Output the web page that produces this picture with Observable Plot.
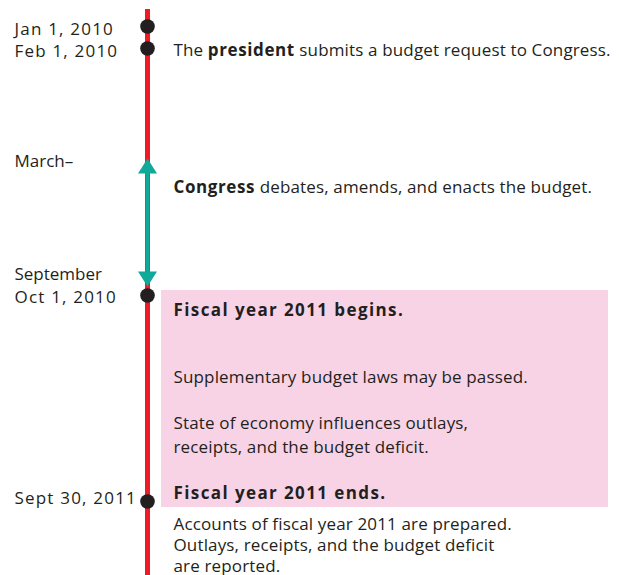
<!DOCTYPE html>
<html><head><meta charset="utf-8">
<script src="https://cdn.jsdelivr.net/npm/d3@7"></script>
<script src="https://cdn.jsdelivr.net/npm/@observablehq/plot@0.6"></script>
<style>body{margin:0;background:#fff} svg{display:block} .date text{letter-spacing:1.2px} .evt text{letter-spacing:0.15px}</style>
</head><body><div id="chart"></div>
<script>
const parse = d3.utcParse("%Y-%m-%d");

// Milestones on the timeline (dots)
const milestoneDates  = ["2010-01-01", "2010-02-01", "2010-10-01", "2011-09-30"];
const milestoneLabels = ["Jan 1, 2010", "Feb 1, 2010", "Oct 1, 2010", "Sept 30, 2011"];

// Congressional period (double-headed arrow)
const periodDates  = ["2010-03-01", "2010-09-01"];
const periodLabels = ["March–", "September"];

// Fiscal year (shaded box)
const fiscalDates = ["2010-10-01", "2011-09-30"];

// Extent of the timeline
const timelineDates = ["2009-12-15", "2011-12-31"];

// Event descriptions (** marks bold)
const eventDates = ["2010-02-01", "2010-03-01", "2010-10-01", "2010-10-01", "2010-10-01", "2011-09-30", "2011-09-30"];
const eventTexts = [
  "The **president** submits a budget request to Congress.",
  "**Congress** debates, amends, and enacts the budget.",
  "**Fiscal year 2011 begins.**",
  "Supplementary budget laws may be passed.",
  "State of economy influences outlays,\nreceipts, and the budget deficit.",
  "**Fiscal year 2011 ends.**",
  "Accounts of fiscal year 2011 are prepared.\nOutlays, receipts, and the budget deficit\nare reported."
];

// ---- layout / style (not data) ----
const RED = "#ed1c24", TEAL = "#11a99a", PINK = "#f8d3e5", INK = "#231f20";
const FONT = "Open Sans", FS = 17;
const scaleDates = [timelineDates[0], milestoneDates[0], milestoneDates[1], periodDates[0], periodDates[1], fiscalDates[0], fiscalDates[1], timelineDates[1]].map(parse);
const scalePx = [9, 26, 48, 158, 286, 295, 501, 575];
const milestoneDy = [3, 3, 2, -3];
const periodDy = [3, -12];
const eventDy = [2.5, 29.5, 15, 82.5, 138, -7.5, 42.5];
const eventLH = [1, 1, 1, 1, 1.38, 1, 1.24];

const strip = s => s.replace(/\*\*/g, "");
const milestones = milestoneDates.map((d, i) => ({date: parse(d), label: milestoneLabels[i]}));
const period = periodDates.map((d, i) => ({date: parse(d), label: periodLabels[i]}));
const events = eventDates.map((d, i) => ({date: parse(d), text: eventTexts[i]}));

const triUp = {draw(ctx) { ctx.moveTo(0, 0); ctx.lineTo(9.5, 15); ctx.lineTo(-9.5, 15); ctx.closePath(); }};
const triDown = {draw(ctx) { ctx.moveTo(0, 0); ctx.lineTo(9.5, -15); ctx.lineTo(-9.5, -15); ctx.closePath(); }};

const at0 = () => 0, at1 = () => 1;
const textBase = {x: at0, y: "date", textAnchor: "start", fontSize: FS, fontFamily: FONT, fill: INK, lineAnchor: "middle"};

const marks = [
  Plot.rect([{a: parse(fiscalDates[0]), b: parse(fiscalDates[1])}],
    {x1: at0, x2: at1, y1: "a", y2: "b", fill: PINK, insetLeft: 14, insetTop: -5, insetBottom: -6}),
  Plot.ruleX([{a: parse(timelineDates[0]), b: parse(timelineDates[1])}],
    {x: at0, y1: "a", y2: "b", stroke: RED, strokeWidth: 5}),
  Plot.ruleX([{a: period[0].date, b: period[1].date}],
    {x: at0, y1: "a", y2: "b", stroke: TEAL, strokeWidth: 4, insetTop: 8, insetBottom: 8}),
  Plot.dot([period[0]], {x: at0, y: "date", symbol: triUp, fill: TEAL, r: 8}),
  Plot.dot([period[1]], {x: at0, y: "date", symbol: triDown, fill: TEAL, r: 8}),
  Plot.dot(milestones, {x: at0, y: "date", r: 7.3, fill: INK}),
  ...milestones.map((m, i) => Plot.text([m], {...textBase, text: "label", dx: -133, dy: milestoneDy[i], className: "date"})),
  ...period.map((m, i) => Plot.text([m], {...textBase, text: "label", dx: -133, dy: periodDy[i]})),
  ...events.map((e, i) => Plot.text([e], {...textBase, text: d => strip(d.text), dx: 26, dy: eventDy[i], lineHeight: eventLH[i], className: "evt"}))
];

const svg = Plot.plot({
  width: 619, height: 575,
  marginTop: 0, marginRight: 0, marginBottom: 0, marginLeft: 0,
  x: {domain: [0, 1], range: [147, 608], axis: null},
  y: {type: "utc", domain: scaleDates, range: scalePx, axis: null},
  style: {background: "#fff", fontFamily: FONT, fontSize: FS + "px", color: INK},
  marks
});

// Rich text: bold segments
const rich = new Map(eventTexts.filter(t => t.includes("**") && !t.includes("\n")).map(t => [strip(t), t]));
svg.querySelectorAll("text").forEach(t => {
  const src = rich.get(t.textContent);
  if (!src) return;
  const whole = /^\*\*[^*]+\*\*$/.test(src);
  t.textContent = "";
  src.split(/(\*\*[^*]+\*\*)/).filter(s => s).forEach(seg => {
    const ts = document.createElementNS("http://www.w3.org/2000/svg", "tspan");
    if (seg.startsWith("**")) {
      ts.setAttribute("font-weight", "700");
      ts.setAttribute("letter-spacing", whole ? "1.4px" : "0.6px");
      seg = seg.slice(2, -2);
    }
    ts.textContent = seg;
    t.appendChild(ts);
  });
});

document.getElementById("chart").appendChild(svg);
</script>
</body></html>
